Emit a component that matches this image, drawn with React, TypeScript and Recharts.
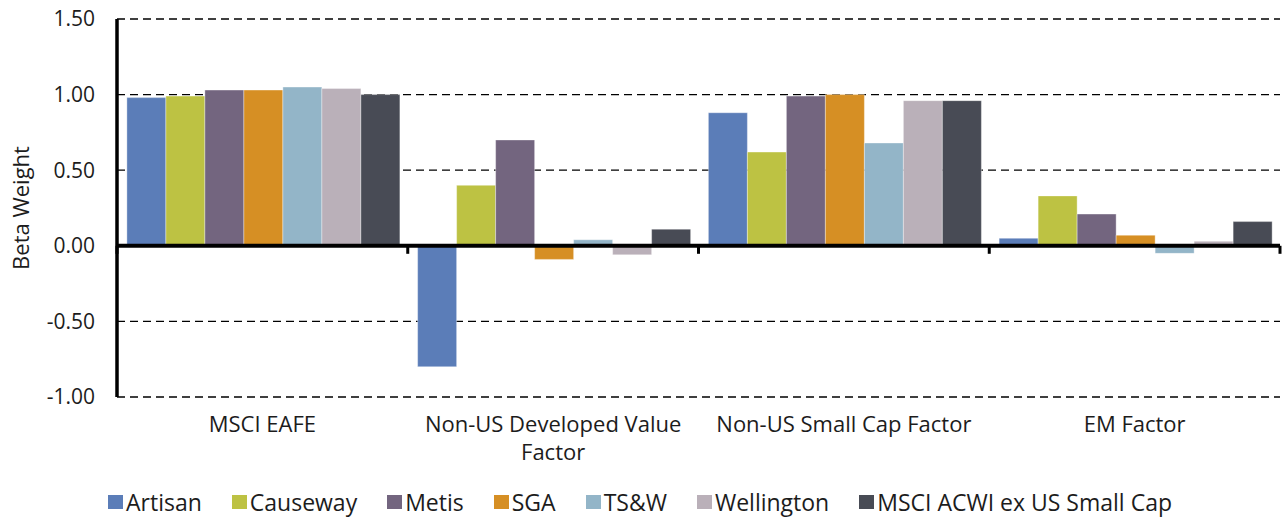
import { BarChart, Bar, XAxis, YAxis, CartesianGrid, ReferenceLine, Legend } from "recharts";

// Beta weights
const CATEGORIES = ["MSCI EAFE", "Non-US Developed Value Factor", "Non-US Small Cap Factor", "EM Factor"];

const ARTISAN = [0.98, -0.8, 0.88, 0.05];
const CAUSEWAY = [0.99, 0.4, 0.62, 0.33];
const METIS = [1.03, 0.7, 0.99, 0.21];
const SGA = [1.03, -0.09, 1.0, 0.07];
const TSW = [1.05, 0.04, 0.68, -0.05];
const WELLINGTON = [1.04, -0.06, 0.96, 0.03];
const BENCHMARK = [1.0, 0.11, 0.96, 0.16];

const Y_TICKS = [-1.0, -0.5, 0.0, 0.5, 1.0, 1.5];

const SERIES = [
  { key: "Artisan", values: ARTISAN, color: "#5b7db8" },
  { key: "Causeway", values: CAUSEWAY, color: "#bdc243" },
  { key: "Metis", values: METIS, color: "#73657f" },
  { key: "SGA", values: SGA, color: "#d68f24" },
  { key: "TS&W", values: TSW, color: "#93b5c8" },
  { key: "Wellington", values: WELLINGTON, color: "#bab0b9" },
  { key: "MSCI ACWI ex US Small Cap", values: BENCHMARK, color: "#484b55" },
];

const data = CATEGORIES.map((name, i) => {
  const row: Record<string, string | number> = { name };
  SERIES.forEach(s => { row[s.key] = s.values[i]; });
  return row;
});

const FONT = "'Open Sans', 'Noto Sans', sans-serif";
const TEXT = "#1c1c1c";

function wrap(label: string, max: number) {
  const lines: string[] = [];
  let cur = "";
  label.split(" ").forEach(w => {
    const next = cur ? cur + " " + w : w;
    if (next.length > max && cur) { lines.push(cur); cur = w; }
    else cur = next;
  });
  if (cur) lines.push(cur);
  return lines;
}

const CategoryTick = ({ x, y, payload }: any) => {
  const lines = wrap(payload.value, 23);
  return (
    <text x={x} y={y} textAnchor="middle" fill={TEXT} fontSize={22} fontFamily={FONT}>
      {lines.map((l, i) => (
        <tspan key={i} x={x} dy={i === 0 ? 27 : 28}>{l}</tspan>
      ))}
    </text>
  );
};

// zero axis: thick line with tick marks at category boundaries
const ZeroAxis = ({ x1, y1, x2 }: any) => {
  const n = CATEGORIES.length;
  const step = (x2 - x1) / n;
  return (
    <g>
      <line x1={x1} y1={y1} x2={x2} y2={y1} stroke="#000" strokeWidth={4} />
      {Array.from({ length: n + 1 }, (_, i) => (
        <line key={i} x1={x1 + i * step} y1={y1} x2={x1 + i * step} y2={y1 + 8} stroke="#000" strokeWidth={3} />
      ))}
    </g>
  );
};

const YLabel = ({ viewBox }: any) => {
  const cx = viewBox.x + 23;
  const cy = viewBox.y + viewBox.height / 2;
  return (
    <text x={cx} y={cy} transform={`rotate(-90 ${cx} ${cy})`} textAnchor="middle"
      dominantBaseline="middle" fill={TEXT} fontSize={22} fontFamily={FONT}>
      Beta Weight
    </text>
  );
};

const LegendContent = () => (
  <div style={{ display: "flex", justifyContent: "center", alignItems: "center", gap: 30, height: 30,
    fontFamily: FONT, fontSize: 23, color: TEXT }}>
    {SERIES.map(s => (
      <div key={s.key} style={{ display: "flex", alignItems: "center" }}>
        <span style={{ width: 15, height: 14, background: s.color, display: "inline-block", marginRight: 3 }} />
        <span>{s.key}</span>
      </div>
    ))}
  </div>
);

export default function App() {
  return (
    <div style={{ position: "absolute", left: 0, top: 0, background: "#fff" }}>
      <BarChart width={1283} height={517} data={data}
        margin={{ top: 19, right: 3, bottom: 0, left: 0 }}
        barCategoryGap="3.4%" barGap={0}>
        <CartesianGrid horizontal vertical={false} stroke="#000" strokeWidth={1.3} strokeDasharray="8 5" />
        <XAxis dataKey="name" axisLine={false} tickLine={false} height={90} interval={0} tick={<CategoryTick />} />
        <YAxis domain={[-1, 1.5]} ticks={Y_TICKS} width={117} interval={0}
          tickFormatter={(v: number) => v.toFixed(2)}
          axisLine={{ stroke: "#000", strokeWidth: 3.5 }} tickLine={false} tickSize={0} tickMargin={22}
          tick={{ fill: TEXT, fontSize: 21, fontFamily: FONT }}
          label={<YLabel />} />
        {SERIES.map(s => (
          <Bar key={s.key} dataKey={s.key} name={s.key} fill={s.color}
            stroke="#ffffff" strokeOpacity={0.6} strokeWidth={0.6} isAnimationActive={false} />
        ))}
        <ReferenceLine y={0} shape={<ZeroAxis />} />
        <Legend verticalAlign="bottom" content={<LegendContent />} />
      </BarChart>
    </div>
  );
}
